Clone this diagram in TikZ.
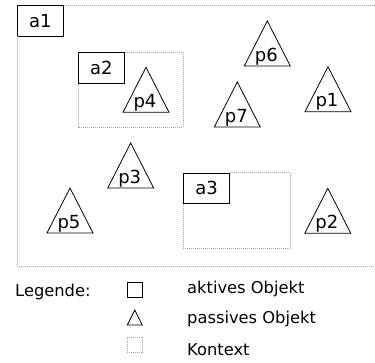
\documentclass[tikz,border=0pt]{standalone}
\usepackage{fontspec}
\setmainfont{DejaVu Sans}
\begin{document}
\begin{tikzpicture}[x=1pt,y=-1pt,
  activebox/.style={draw=black,line width=0.8pt,minimum width=46pt,minimum height=30.5pt,inner sep=0pt,font=\fontsize{18}{20}\selectfont},
  ctx/.style={draw=gray!70,line width=0.8pt,dash pattern=on 1pt off 1pt},
  passline/.style={draw=black,line width=0.8pt,line join=miter},
  plabel/.style={anchor=base,inner sep=0pt,font=\fontsize{18}{20}\selectfont},
  legtext/.style={anchor=base west,inner sep=0pt,font=\fontsize{16.3}{18}\selectfont}]
\useasboundingbox (0,0) rectangle (375,362);
% active objects with context
\node[activebox,anchor=north west] (a1) at (17,5) {a1};
\draw[ctx] (a1.north east) -- (375,5);
\draw[ctx] (a1.south west) -- (17,266) -- (375,266);
\node[activebox,anchor=north west] (a2) at (78,52) {a2};
\draw[ctx] (a2.north east) -- (183,52) -- (183,127) -- (78,127) -- (a2.south west);
\node[activebox,anchor=north west] (a3) at (183.3,172.7) {a3};
\draw[ctx] (a3.north east) -- (290,172.7) -- (290,248.3) -- (183.3,248.3) -- (a3.south west);
% passive objects
\foreach \n/\cx/\by in {p4/146/112.3, p6/267.3/66, p1/328/111.7, p7/237.3/127, p3/130.7/188, p5/70/233, p2/327.8/233.3}{
  \draw[passline] (\cx-23,\by) -- (\cx,\by-45) -- (\cx+23,\by) -- cycle;
  \node[plabel] (\n) at (\cx-1,\by-5) {\n};
}
% legend
\node[legtext] (leg) at (15,296) {Legende:};
\node[draw=black,line width=0.8pt,minimum size=15pt,inner sep=0pt] (lsq) at (134.5,289.5) {};
\draw[passline] (127.3,325) -- (134.8,310) -- (142.3,325) -- cycle;
\node[ctx,minimum size=15pt,inner sep=0pt] (lctx) at (134.5,344.5) {};
\node[legtext] (t1) at (187,293) {aktives Objekt};
\node[legtext] (t2) at (187,323) {passives Objekt};
\node[legtext] (t3) at (187,355) {Kontext};
\end{tikzpicture}
\end{document}
